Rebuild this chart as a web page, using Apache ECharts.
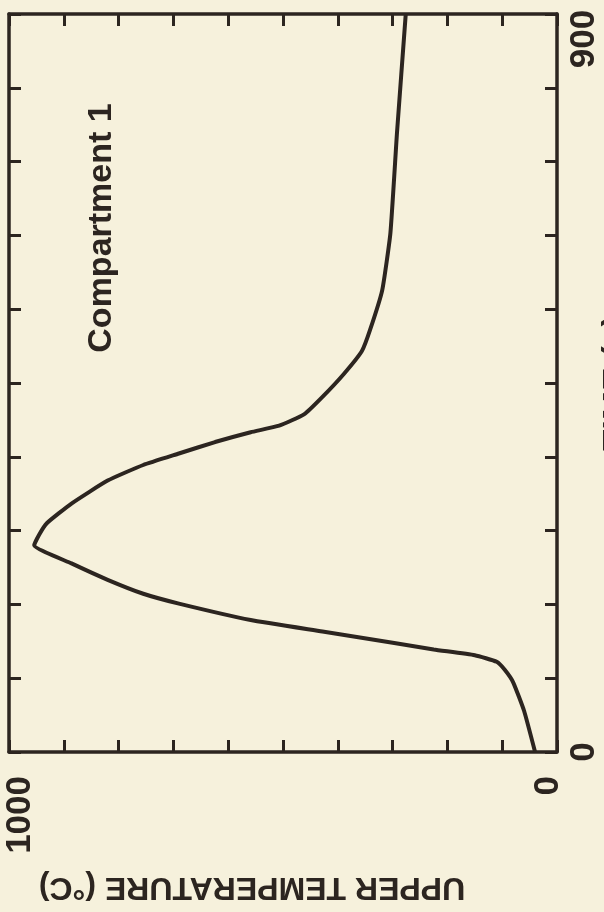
<!DOCTYPE html>
<html>
<head>
<meta charset="utf-8">
<script src="https://cdn.jsdelivr.net/npm/echarts@6/dist/echarts.min.js"></script>
<style>
html,body{margin:0;padding:0;background:#f6f1dc;}
#chart{width:604px;height:912px;}
</style>
</head>
<body>
<div id="chart"></div>
<script>
// Time (s) along the curve
const timeValues = [0, 50, 85, 100, 110, 118, 125, 133, 147, 161, 181, 193, 210, 230, 252, 265, 279, 303, 331, 350, 364, 378, 390, 398, 412, 433, 461, 489, 515, 563, 633, 755, 900];
// Upper layer temperature (°C)
const tempValues = [40, 60, 80, 95, 110, 150, 225, 297, 428, 559, 690, 755, 820, 886, 954, 945, 931, 886, 820, 755, 690, 624, 559, 507, 461, 428, 389, 356, 341, 319, 304, 292, 276];
const tempTickLabels = [0, 1000];
const timeTickLabels = [0, 900];
const seriesName = 'Compartment 1';
const tempAxisName = 'UPPER TEMPERATURE (°C)';
const timeAxisName = 'TIME (s)';

const ink = '#2c2520';
const font = "'Liberation Sans', Arial, sans-serif";

const chart = echarts.init(document.getElementById('chart'), null, {renderer: 'canvas'});
const axisLine = {show: true, onZero: false, lineStyle: {color: ink, width: 3.5}};
const tick = {show: true, inside: true, length: 12, lineStyle: {color: ink, width: 3}};

chart.setOption({
  backgroundColor: '#f6f1dc',
  animation: false,
  grid: {left: 9, right: 47, top: 14, bottom: 160, containLabel: false, outerBoundsMode: 'none'},
  xAxis: [{
    type: 'value', position: 'bottom', min: 0, max: 1000, interval: 100, inverse: true,
    axisLine: axisLine,
    axisTick: tick,
    splitLine: {show: false},
    axisLabel: {
      customValues: tempTickLabels, rotate: 90, margin: 24,
      color: ink, fontFamily: font, fontWeight: 'bold', fontSize: 35,
      formatter: v => v === 1000 ? '{a|' + v + '}' : '{b|' + v + '}',
      rich: {
        a: {padding: [23, 0, 0, 0], color: ink, fontFamily: font, fontWeight: 'bold', fontSize: 35},
        b: {padding: [0, 0, 18, 0], color: ink, fontFamily: font, fontWeight: 'bold', fontSize: 35}
      }
    },
    name: tempAxisName, nameLocation: 'middle', nameRotate: 180, nameGap: 119,
    nameTextStyle: {color: ink, fontFamily: font, fontWeight: 'bold', fontSize: 32, padding: [0, 0, 0, 62]}
  }, {
    type: 'value', position: 'top', min: 0, max: 1000, interval: 100, inverse: true,
    axisLine: axisLine,
    axisTick: tick, axisLabel: {show: false}, splitLine: {show: false}
  }],
  yAxis: [{
    type: 'value', position: 'right', min: 0, max: 900, interval: 90,
    axisLine: axisLine,
    axisTick: tick,
    splitLine: {show: false},
    axisLabel: {
      customValues: timeTickLabels, rotate: 90, margin: 10,
      color: ink, fontFamily: font, fontWeight: 'bold', fontSize: 35,
      formatter: v => v === 900 ? '{a|' + v + '}' : '{b|' + v + '}',
      rich: {
        a: {padding: [0, 50, 0, 0], color: ink, fontFamily: font, fontWeight: 'bold', fontSize: 35},
        b: {color: ink, fontFamily: font, fontWeight: 'bold', fontSize: 35}
      }
    }
  }, {
    type: 'value', position: 'left', min: 0, max: 900, interval: 90,
    axisLine: axisLine,
    axisTick: tick, axisLabel: {show: false}, splitLine: {show: false}
  }],
  graphic: [{
    type: 'text', x: 102, y: 228, rotation: Math.PI / 2,
    style: {text: seriesName, fill: ink, font: 'bold 34px ' + font, align: 'center', verticalAlign: 'middle'}
  }, {
    type: 'text', x: 617, y: 383, rotation: Math.PI / 2,
    style: {text: timeAxisName, fill: ink, font: 'bold 35px ' + font, align: 'center', verticalAlign: 'middle'}
  }],
  series: [{
    name: seriesName, type: 'line', xAxisIndex: 0, yAxisIndex: 0,
    data: timeValues.map((t, i) => [tempValues[i], t]),
    showSymbol: false, smooth: 0.15,
    lineStyle: {color: ink, width: 4}
  }]
});
</script>
</body>
</html>
